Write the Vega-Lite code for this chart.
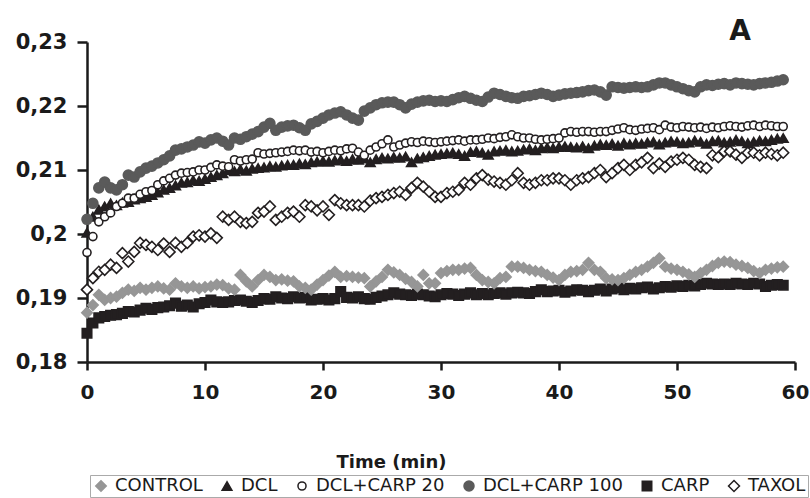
{
"$schema": "https://vega.github.io/schema/vega-lite/v6.json",
"width": 708,
"height": 320,
"autosize": {"type": "none"},
"padding": {"left": 87, "top": 42, "right": 15, "bottom": 136},
"background": "white",
"config": {"view": {"stroke": null}, "font": "DejaVu Sans"},
"title": {"text": "A", "anchor": "end", "fontSize": 28, "fontWeight": "bold", "color": "#1a1a1a", "font": "DejaVu Sans", "dx": -58, "dy": 19, "offset": 4},
"data": {"values": [
{"t":0,"CONTROL":0.1877,"DCL":0.2002,"DCL+CARP 20":0.1971,"DCL+CARP 100":0.2023,"CARP":0.1845,"TAXOL":0.1913},
{"t":0.5,"CONTROL":0.1889,"DCL":0.2027,"DCL+CARP 20":0.1996,"DCL+CARP 100":0.2048,"CARP":0.1861,"TAXOL":0.1931},
{"t":1,"CONTROL":0.1905,"DCL":0.2038,"DCL+CARP 20":0.2019,"DCL+CARP 100":0.2072,"CARP":0.1869,"TAXOL":0.1941},
{"t":1.5,"CONTROL":0.1897,"DCL":0.2043,"DCL+CARP 20":0.2027,"DCL+CARP 100":0.2081,"CARP":0.1871,"TAXOL":0.1944},
{"t":2,"CONTROL":0.19,"DCL":0.2048,"DCL+CARP 20":0.2033,"DCL+CARP 100":0.2072,"CARP":0.1873,"TAXOL":0.1952},
{"t":2.5,"CONTROL":0.1902,"DCL":0.2045,"DCL+CARP 20":0.2043,"DCL+CARP 100":0.2069,"CARP":0.1874,"TAXOL":0.1947},
{"t":3,"CONTROL":0.1908,"DCL":0.2049,"DCL+CARP 20":0.2048,"DCL+CARP 100":0.2077,"CARP":0.1876,"TAXOL":0.197},
{"t":3.5,"CONTROL":0.1913,"DCL":0.205,"DCL+CARP 20":0.2056,"DCL+CARP 100":0.2092,"CARP":0.1879,"TAXOL":0.1957},
{"t":4,"CONTROL":0.1911,"DCL":0.2054,"DCL+CARP 20":0.2056,"DCL+CARP 100":0.2089,"CARP":0.1878,"TAXOL":0.1972},
{"t":4.5,"CONTROL":0.1916,"DCL":0.2056,"DCL+CARP 20":0.2062,"DCL+CARP 100":0.2097,"CARP":0.1881,"TAXOL":0.1986},
{"t":5,"CONTROL":0.1913,"DCL":0.2058,"DCL+CARP 20":0.2066,"DCL+CARP 100":0.2103,"CARP":0.1884,"TAXOL":0.1983},
{"t":5.5,"CONTROL":0.1916,"DCL":0.2061,"DCL+CARP 20":0.2068,"DCL+CARP 100":0.2106,"CARP":0.1882,"TAXOL":0.198},
{"t":6,"CONTROL":0.1918,"DCL":0.2065,"DCL+CARP 20":0.2077,"DCL+CARP 100":0.2111,"CARP":0.1885,"TAXOL":0.1975},
{"t":6.5,"CONTROL":0.1915,"DCL":0.2069,"DCL+CARP 20":0.2083,"DCL+CARP 100":0.2116,"CARP":0.1886,"TAXOL":0.1985},
{"t":7,"CONTROL":0.1913,"DCL":0.2072,"DCL+CARP 20":0.2087,"DCL+CARP 100":0.2122,"CARP":0.1888,"TAXOL":0.1972},
{"t":7.5,"CONTROL":0.1923,"DCL":0.2076,"DCL+CARP 20":0.2092,"DCL+CARP 100":0.2131,"CARP":0.1892,"TAXOL":0.1986},
{"t":8,"CONTROL":0.1918,"DCL":0.208,"DCL+CARP 20":0.2095,"DCL+CARP 100":0.2133,"CARP":0.1887,"TAXOL":0.198},
{"t":8.5,"CONTROL":0.1916,"DCL":0.2081,"DCL+CARP 20":0.2096,"DCL+CARP 100":0.2136,"CARP":0.1889,"TAXOL":0.1986},
{"t":9,"CONTROL":0.1918,"DCL":0.2084,"DCL+CARP 20":0.2097,"DCL+CARP 100":0.2139,"CARP":0.1886,"TAXOL":0.1996},
{"t":9.5,"CONTROL":0.1915,"DCL":0.2083,"DCL+CARP 20":0.21,"DCL+CARP 100":0.2144,"CARP":0.1891,"TAXOL":0.1998},
{"t":10,"CONTROL":0.1917,"DCL":0.2086,"DCL+CARP 20":0.21,"DCL+CARP 100":0.2142,"CARP":0.1893,"TAXOL":0.1996},
{"t":10.5,"CONTROL":0.1918,"DCL":0.2089,"DCL+CARP 20":0.2104,"DCL+CARP 100":0.2147,"CARP":0.1897,"TAXOL":0.2001},
{"t":11,"CONTROL":0.1921,"DCL":0.2092,"DCL+CARP 20":0.2108,"DCL+CARP 100":0.215,"CARP":0.1894,"TAXOL":0.1994},
{"t":11.5,"CONTROL":0.192,"DCL":0.2095,"DCL+CARP 20":0.2106,"DCL+CARP 100":0.2145,"CARP":0.1893,"TAXOL":0.2027},
{"t":12,"CONTROL":0.1915,"DCL":0.21,"DCL+CARP 20":0.2105,"DCL+CARP 100":0.2139,"CARP":0.1894,"TAXOL":0.2022},
{"t":12.5,"CONTROL":0.1913,"DCL":0.2098,"DCL+CARP 20":0.2116,"DCL+CARP 100":0.215,"CARP":0.1896,"TAXOL":0.2027},
{"t":13,"CONTROL":0.1936,"DCL":0.2101,"DCL+CARP 20":0.2114,"DCL+CARP 100":0.2148,"CARP":0.1897,"TAXOL":0.2019},
{"t":13.5,"CONTROL":0.1926,"DCL":0.2099,"DCL+CARP 20":0.2116,"DCL+CARP 100":0.2152,"CARP":0.1895,"TAXOL":0.2017},
{"t":14,"CONTROL":0.1918,"DCL":0.2102,"DCL+CARP 20":0.2117,"DCL+CARP 100":0.2156,"CARP":0.1893,"TAXOL":0.2019},
{"t":14.5,"CONTROL":0.1928,"DCL":0.2103,"DCL+CARP 20":0.2127,"DCL+CARP 100":0.216,"CARP":0.1896,"TAXOL":0.2033},
{"t":15,"CONTROL":0.1936,"DCL":0.2104,"DCL+CARP 20":0.2125,"DCL+CARP 100":0.2167,"CARP":0.1899,"TAXOL":0.2035},
{"t":15.5,"CONTROL":0.1933,"DCL":0.2106,"DCL+CARP 20":0.2126,"DCL+CARP 100":0.2173,"CARP":0.1898,"TAXOL":0.2043},
{"t":16,"CONTROL":0.1928,"DCL":0.2105,"DCL+CARP 20":0.2127,"DCL+CARP 100":0.2162,"CARP":0.1902,"TAXOL":0.2022},
{"t":16.5,"CONTROL":0.1929,"DCL":0.2107,"DCL+CARP 20":0.2128,"DCL+CARP 100":0.2167,"CARP":0.19,"TAXOL":0.2027},
{"t":17,"CONTROL":0.1927,"DCL":0.2108,"DCL+CARP 20":0.2129,"DCL+CARP 100":0.2169,"CARP":0.1899,"TAXOL":0.2033},
{"t":17.5,"CONTROL":0.1926,"DCL":0.2108,"DCL+CARP 20":0.2131,"DCL+CARP 100":0.217,"CARP":0.1902,"TAXOL":0.2035},
{"t":18,"CONTROL":0.1918,"DCL":0.211,"DCL+CARP 20":0.213,"DCL+CARP 100":0.2166,"CARP":0.19,"TAXOL":0.2027},
{"t":18.5,"CONTROL":0.1916,"DCL":0.2109,"DCL+CARP 20":0.2131,"DCL+CARP 100":0.2162,"CARP":0.1901,"TAXOL":0.2045},
{"t":19,"CONTROL":0.1913,"DCL":0.2112,"DCL+CARP 20":0.2128,"DCL+CARP 100":0.2172,"CARP":0.1897,"TAXOL":0.2043},
{"t":19.5,"CONTROL":0.1921,"DCL":0.2113,"DCL+CARP 20":0.2129,"DCL+CARP 100":0.2176,"CARP":0.1898,"TAXOL":0.2037},
{"t":20,"CONTROL":0.1928,"DCL":0.2114,"DCL+CARP 20":0.2127,"DCL+CARP 100":0.2181,"CARP":0.1899,"TAXOL":0.2043},
{"t":20.5,"CONTROL":0.1935,"DCL":0.2113,"DCL+CARP 20":0.2129,"DCL+CARP 100":0.2186,"CARP":0.1897,"TAXOL":0.203},
{"t":21,"CONTROL":0.1941,"DCL":0.2115,"DCL+CARP 20":0.2131,"DCL+CARP 100":0.2189,"CARP":0.1899,"TAXOL":0.2053},
{"t":21.5,"CONTROL":0.1933,"DCL":0.2116,"DCL+CARP 20":0.213,"DCL+CARP 100":0.2191,"CARP":0.191,"TAXOL":0.2048},
{"t":22,"CONTROL":0.1934,"DCL":0.2114,"DCL+CARP 20":0.2133,"DCL+CARP 100":0.2186,"CARP":0.1901,"TAXOL":0.2045},
{"t":22.5,"CONTROL":0.1933,"DCL":0.2117,"DCL+CARP 20":0.2134,"DCL+CARP 100":0.2181,"CARP":0.19,"TAXOL":0.2045},
{"t":23,"CONTROL":0.1932,"DCL":0.2116,"DCL+CARP 20":0.2128,"DCL+CARP 100":0.2178,"CARP":0.1902,"TAXOL":0.2045},
{"t":23.5,"CONTROL":0.1931,"DCL":0.2118,"DCL+CARP 20":0.2123,"DCL+CARP 100":0.2192,"CARP":0.1899,"TAXOL":0.2043},
{"t":24,"CONTROL":0.1918,"DCL":0.2112,"DCL+CARP 20":0.2131,"DCL+CARP 100":0.2197,"CARP":0.1898,"TAXOL":0.2052},
{"t":24.5,"CONTROL":0.1926,"DCL":0.2117,"DCL+CARP 20":0.2136,"DCL+CARP 100":0.2202,"CARP":0.1901,"TAXOL":0.2056},
{"t":25,"CONTROL":0.1933,"DCL":0.2119,"DCL+CARP 20":0.2141,"DCL+CARP 100":0.2205,"CARP":0.1903,"TAXOL":0.2058},
{"t":25.5,"CONTROL":0.1944,"DCL":0.2118,"DCL+CARP 20":0.2147,"DCL+CARP 100":0.2206,"CARP":0.1905,"TAXOL":0.2061},
{"t":26,"CONTROL":0.194,"DCL":0.212,"DCL+CARP 20":0.2136,"DCL+CARP 100":0.2206,"CARP":0.1908,"TAXOL":0.2064},
{"t":26.5,"CONTROL":0.1936,"DCL":0.2119,"DCL+CARP 20":0.2139,"DCL+CARP 100":0.2202,"CARP":0.1906,"TAXOL":0.2066},
{"t":27,"CONTROL":0.193,"DCL":0.2121,"DCL+CARP 20":0.2142,"DCL+CARP 100":0.2197,"CARP":0.1905,"TAXOL":0.2061},
{"t":27.5,"CONTROL":0.1925,"DCL":0.2112,"DCL+CARP 20":0.2144,"DCL+CARP 100":0.2203,"CARP":0.1904,"TAXOL":0.2072},
{"t":28,"CONTROL":0.1918,"DCL":0.2118,"DCL+CARP 20":0.2143,"DCL+CARP 100":0.2206,"CARP":0.1906,"TAXOL":0.208},
{"t":28.5,"CONTROL":0.1936,"DCL":0.212,"DCL+CARP 20":0.2145,"DCL+CARP 100":0.2208,"CARP":0.1905,"TAXOL":0.2074},
{"t":29,"CONTROL":0.1923,"DCL":0.2122,"DCL+CARP 20":0.2144,"DCL+CARP 100":0.2209,"CARP":0.1903,"TAXOL":0.2066},
{"t":29.5,"CONTROL":0.1923,"DCL":0.2124,"DCL+CARP 20":0.2143,"DCL+CARP 100":0.2207,"CARP":0.1902,"TAXOL":0.2058},
{"t":30,"CONTROL":0.1939,"DCL":0.2125,"DCL+CARP 20":0.2144,"DCL+CARP 100":0.2208,"CARP":0.1905,"TAXOL":0.2058},
{"t":30.5,"CONTROL":0.1942,"DCL":0.2126,"DCL+CARP 20":0.2145,"DCL+CARP 100":0.2207,"CARP":0.1907,"TAXOL":0.2064},
{"t":31,"CONTROL":0.1944,"DCL":0.2127,"DCL+CARP 20":0.2146,"DCL+CARP 100":0.221,"CARP":0.1906,"TAXOL":0.2066},
{"t":31.5,"CONTROL":0.1944,"DCL":0.2125,"DCL+CARP 20":0.2147,"DCL+CARP 100":0.2213,"CARP":0.1904,"TAXOL":0.2069},
{"t":32,"CONTROL":0.1946,"DCL":0.2122,"DCL+CARP 20":0.2145,"DCL+CARP 100":0.2215,"CARP":0.1906,"TAXOL":0.208},
{"t":32.5,"CONTROL":0.1947,"DCL":0.2128,"DCL+CARP 20":0.2147,"DCL+CARP 100":0.2212,"CARP":0.1908,"TAXOL":0.2077},
{"t":33,"CONTROL":0.1936,"DCL":0.2129,"DCL+CARP 20":0.2147,"DCL+CARP 100":0.2209,"CARP":0.1905,"TAXOL":0.2087},
{"t":33.5,"CONTROL":0.1928,"DCL":0.2127,"DCL+CARP 20":0.2148,"DCL+CARP 100":0.2207,"CARP":0.1907,"TAXOL":0.2092},
{"t":34,"CONTROL":0.1925,"DCL":0.2124,"DCL+CARP 20":0.215,"DCL+CARP 100":0.2214,"CARP":0.1905,"TAXOL":0.2085},
{"t":34.5,"CONTROL":0.1923,"DCL":0.2129,"DCL+CARP 20":0.2149,"DCL+CARP 100":0.222,"CARP":0.1907,"TAXOL":0.2082},
{"t":35,"CONTROL":0.1931,"DCL":0.213,"DCL+CARP 20":0.2151,"DCL+CARP 100":0.2218,"CARP":0.1908,"TAXOL":0.208},
{"t":35.5,"CONTROL":0.1933,"DCL":0.2131,"DCL+CARP 20":0.2152,"DCL+CARP 100":0.2215,"CARP":0.1906,"TAXOL":0.2077},
{"t":36,"CONTROL":0.1949,"DCL":0.2129,"DCL+CARP 20":0.2155,"DCL+CARP 100":0.2213,"CARP":0.1908,"TAXOL":0.2084},
{"t":36.5,"CONTROL":0.1949,"DCL":0.213,"DCL+CARP 20":0.2152,"DCL+CARP 100":0.2212,"CARP":0.1909,"TAXOL":0.2095},
{"t":37,"CONTROL":0.1947,"DCL":0.2132,"DCL+CARP 20":0.215,"DCL+CARP 100":0.2215,"CARP":0.1908,"TAXOL":0.208},
{"t":37.5,"CONTROL":0.1944,"DCL":0.2133,"DCL+CARP 20":0.215,"DCL+CARP 100":0.2216,"CARP":0.1907,"TAXOL":0.2077},
{"t":38,"CONTROL":0.1942,"DCL":0.2131,"DCL+CARP 20":0.2148,"DCL+CARP 100":0.2218,"CARP":0.191,"TAXOL":0.208},
{"t":38.5,"CONTROL":0.1941,"DCL":0.2134,"DCL+CARP 20":0.2147,"DCL+CARP 100":0.222,"CARP":0.1913,"TAXOL":0.2084},
{"t":39,"CONTROL":0.1936,"DCL":0.2135,"DCL+CARP 20":0.2148,"DCL+CARP 100":0.2218,"CARP":0.191,"TAXOL":0.2084},
{"t":39.5,"CONTROL":0.1932,"DCL":0.2134,"DCL+CARP 20":0.2149,"DCL+CARP 100":0.2215,"CARP":0.1911,"TAXOL":0.2087},
{"t":40,"CONTROL":0.1928,"DCL":0.2136,"DCL+CARP 20":0.215,"DCL+CARP 100":0.2217,"CARP":0.1912,"TAXOL":0.2087},
{"t":40.5,"CONTROL":0.1936,"DCL":0.2137,"DCL+CARP 20":0.2158,"DCL+CARP 100":0.2219,"CARP":0.1909,"TAXOL":0.2084},
{"t":41,"CONTROL":0.1941,"DCL":0.2136,"DCL+CARP 20":0.216,"DCL+CARP 100":0.222,"CARP":0.1911,"TAXOL":0.2077},
{"t":41.5,"CONTROL":0.1942,"DCL":0.2135,"DCL+CARP 20":0.2159,"DCL+CARP 100":0.2221,"CARP":0.1913,"TAXOL":0.2084},
{"t":42,"CONTROL":0.1944,"DCL":0.2137,"DCL+CARP 20":0.216,"DCL+CARP 100":0.2222,"CARP":0.1912,"TAXOL":0.2087},
{"t":42.5,"CONTROL":0.1955,"DCL":0.2134,"DCL+CARP 20":0.216,"DCL+CARP 100":0.2224,"CARP":0.191,"TAXOL":0.2089},
{"t":43,"CONTROL":0.1944,"DCL":0.2138,"DCL+CARP 20":0.2159,"DCL+CARP 100":0.2225,"CARP":0.1912,"TAXOL":0.2095},
{"t":43.5,"CONTROL":0.1941,"DCL":0.214,"DCL+CARP 20":0.216,"DCL+CARP 100":0.2222,"CARP":0.1914,"TAXOL":0.21},
{"t":44,"CONTROL":0.1931,"DCL":0.2139,"DCL+CARP 20":0.216,"DCL+CARP 100":0.2217,"CARP":0.1911,"TAXOL":0.2089},
{"t":44.5,"CONTROL":0.1929,"DCL":0.2141,"DCL+CARP 20":0.2162,"DCL+CARP 100":0.223,"CARP":0.1914,"TAXOL":0.2095},
{"t":45,"CONTROL":0.1928,"DCL":0.2138,"DCL+CARP 20":0.2164,"DCL+CARP 100":0.2229,"CARP":0.1916,"TAXOL":0.2103},
{"t":45.5,"CONTROL":0.1931,"DCL":0.2142,"DCL+CARP 20":0.2166,"DCL+CARP 100":0.2228,"CARP":0.1913,"TAXOL":0.2108},
{"t":46,"CONTROL":0.1936,"DCL":0.214,"DCL+CARP 20":0.2163,"DCL+CARP 100":0.2229,"CARP":0.1915,"TAXOL":0.21},
{"t":46.5,"CONTROL":0.1941,"DCL":0.2142,"DCL+CARP 20":0.2162,"DCL+CARP 100":0.223,"CARP":0.1914,"TAXOL":0.2108},
{"t":47,"CONTROL":0.1944,"DCL":0.2141,"DCL+CARP 20":0.2164,"DCL+CARP 100":0.2229,"CARP":0.1916,"TAXOL":0.2112},
{"t":47.5,"CONTROL":0.1949,"DCL":0.2143,"DCL+CARP 20":0.2165,"DCL+CARP 100":0.223,"CARP":0.1917,"TAXOL":0.2119},
{"t":48,"CONTROL":0.1955,"DCL":0.2144,"DCL+CARP 20":0.2166,"DCL+CARP 100":0.2233,"CARP":0.1914,"TAXOL":0.2103},
{"t":48.5,"CONTROL":0.1962,"DCL":0.214,"DCL+CARP 20":0.2163,"DCL+CARP 100":0.2236,"CARP":0.1916,"TAXOL":0.211},
{"t":49,"CONTROL":0.1949,"DCL":0.2143,"DCL+CARP 20":0.217,"DCL+CARP 100":0.2236,"CARP":0.1918,"TAXOL":0.2105},
{"t":49.5,"CONTROL":0.1946,"DCL":0.2145,"DCL+CARP 20":0.2167,"DCL+CARP 100":0.2233,"CARP":0.1917,"TAXOL":0.2113},
{"t":50,"CONTROL":0.1944,"DCL":0.2144,"DCL+CARP 20":0.2166,"DCL+CARP 100":0.223,"CARP":0.1919,"TAXOL":0.2116},
{"t":50.5,"CONTROL":0.1941,"DCL":0.2142,"DCL+CARP 20":0.2168,"DCL+CARP 100":0.2227,"CARP":0.1918,"TAXOL":0.2119},
{"t":51,"CONTROL":0.1937,"DCL":0.2143,"DCL+CARP 20":0.2167,"DCL+CARP 100":0.2224,"CARP":0.192,"TAXOL":0.2116},
{"t":51.5,"CONTROL":0.1933,"DCL":0.2146,"DCL+CARP 20":0.2166,"DCL+CARP 100":0.2222,"CARP":0.1919,"TAXOL":0.2108},
{"t":52,"CONTROL":0.1939,"DCL":0.2144,"DCL+CARP 20":0.2167,"DCL+CARP 100":0.223,"CARP":0.1921,"TAXOL":0.2105},
{"t":52.5,"CONTROL":0.1944,"DCL":0.2141,"DCL+CARP 20":0.2165,"DCL+CARP 100":0.2233,"CARP":0.1923,"TAXOL":0.2103},
{"t":53,"CONTROL":0.195,"DCL":0.2145,"DCL+CARP 20":0.2167,"DCL+CARP 100":0.2232,"CARP":0.1922,"TAXOL":0.2123},
{"t":53.5,"CONTROL":0.1955,"DCL":0.2146,"DCL+CARP 20":0.2166,"DCL+CARP 100":0.2234,"CARP":0.1921,"TAXOL":0.212},
{"t":54,"CONTROL":0.1957,"DCL":0.2143,"DCL+CARP 20":0.2168,"DCL+CARP 100":0.2235,"CARP":0.1922,"TAXOL":0.2129},
{"t":54.5,"CONTROL":0.1956,"DCL":0.2144,"DCL+CARP 20":0.2169,"DCL+CARP 100":0.2233,"CARP":0.1921,"TAXOL":0.2129},
{"t":55,"CONTROL":0.1952,"DCL":0.2147,"DCL+CARP 20":0.2168,"DCL+CARP 100":0.2236,"CARP":0.1923,"TAXOL":0.2124},
{"t":55.5,"CONTROL":0.195,"DCL":0.2145,"DCL+CARP 20":0.2167,"DCL+CARP 100":0.2235,"CARP":0.1922,"TAXOL":0.2119},
{"t":56,"CONTROL":0.1947,"DCL":0.2142,"DCL+CARP 20":0.2169,"DCL+CARP 100":0.2234,"CARP":0.1921,"TAXOL":0.2127},
{"t":56.5,"CONTROL":0.1942,"DCL":0.2144,"DCL+CARP 20":0.217,"DCL+CARP 100":0.2233,"CARP":0.1923,"TAXOL":0.2127},
{"t":57,"CONTROL":0.1939,"DCL":0.2146,"DCL+CARP 20":0.2168,"DCL+CARP 100":0.2235,"CARP":0.1922,"TAXOL":0.2123},
{"t":57.5,"CONTROL":0.1944,"DCL":0.2145,"DCL+CARP 20":0.217,"DCL+CARP 100":0.2236,"CARP":0.1918,"TAXOL":0.2127},
{"t":58,"CONTROL":0.1946,"DCL":0.2147,"DCL+CARP 20":0.2169,"DCL+CARP 100":0.2237,"CARP":0.192,"TAXOL":0.2125},
{"t":58.5,"CONTROL":0.1948,"DCL":0.2149,"DCL+CARP 20":0.2168,"DCL+CARP 100":0.2239,"CARP":0.1921,"TAXOL":0.2123},
{"t":59,"CONTROL":0.1949,"DCL":0.215,"DCL+CARP 20":0.2168,"DCL+CARP 100":0.2241,"CARP":0.192,"TAXOL":0.2127}
]},
"transform": [{"fold": ["CONTROL", "DCL", "DCL+CARP 20", "DCL+CARP 100", "CARP", "TAXOL"], "as": ["series", "value"]}],
"mark": {"type": "point", "filled": true, "strokeWidth": 1.6, "opacity": 1},
"encoding": {
"x": {"field": "t", "type": "quantitative", "scale": {"domain": [0, 60], "nice": false},
 "axis": {"values": [0, 10, 20, 30, 40, 50, 60], "title": "Time (min)", "grid": false, "labelFlush": false, "labelOverlap": false,
  "domainColor": "#1a1a1a", "domainWidth": 2.5, "tickColor": "#1a1a1a", "tickWidth": 2.5, "tickSize": 8, "labelPadding": 12,
  "labelFont": "DejaVu Sans", "labelFontSize": 20, "labelFontWeight": "bold", "labelColor": "#1a1a1a",
  "titleFont": "DejaVu Sans", "titleFontSize": 18, "titleFontWeight": "bold", "titleColor": "#1a1a1a",
  "titleX": 304, "titleY": 100, "titleAlign": "center", "titleBaseline": "middle"}},
"y": {"field": "value", "type": "quantitative", "scale": {"domain": [0.18, 0.23], "nice": false, "zero": false},
 "axis": {"values": [0.18, 0.19, 0.2, 0.21, 0.22, 0.23], "title": null, "grid": false,
  "labelExpr": "replace(format(datum.value, '.2~f'), '.', ',')",
  "domainColor": "#1a1a1a", "domainWidth": 2.5, "tickColor": "#1a1a1a", "tickWidth": 2.5, "tickSize": 10, "labelPadding": 10,
  "labelFont": "DejaVu Sans", "labelFontSize": 21, "labelFontWeight": "bold", "labelColor": "#1a1a1a"}},
"shape": {"field": "series", "type": "nominal",
 "scale": {"domain": ["CONTROL", "DCL", "DCL+CARP 20", "DCL+CARP 100", "CARP", "TAXOL"], "range": ["diamond", "triangle-up", "circle", "circle", "square", "diamond"]},
 "legend": {"title": null, "orient": "none", "legendX": 3, "legendY": 433, "direction": "horizontal", "strokeColor": "#aaaaaa", "padding": 2,
  "labelFont": "DejaVu Sans", "labelFontSize": 18, "labelColor": "#1a1a1a", "columnPadding": 15, "labelOffset": 5, "symbolStrokeWidth": 1.5}},
"fill": {"field": "series", "type": "nominal",
 "scale": {"domain": ["CONTROL", "DCL", "DCL+CARP 20", "DCL+CARP 100", "CARP", "TAXOL"], "range": ["#969696", "#231f20", "#ffffff", "#5a5a5a", "#231f20", "#ffffff"]},
 "legend": {"title": null}},
"stroke": {"field": "series", "type": "nominal",
 "scale": {"domain": ["CONTROL", "DCL", "DCL+CARP 20", "DCL+CARP 100", "CARP", "TAXOL"], "range": ["#969696", "#231f20", "#231f20", "#5a5a5a", "#231f20", "#231f20"]},
 "legend": {"title": null}},
"size": {"field": "series", "type": "nominal",
 "scale": {"type": "ordinal", "domain": ["CONTROL", "DCL", "DCL+CARP 20", "DCL+CARP 100", "CARP", "TAXOL"], "range": [110, 95, 65, 100, 90, 120]},
 "legend": {"title": null}},
"order": {"field": "series"}
}
}
